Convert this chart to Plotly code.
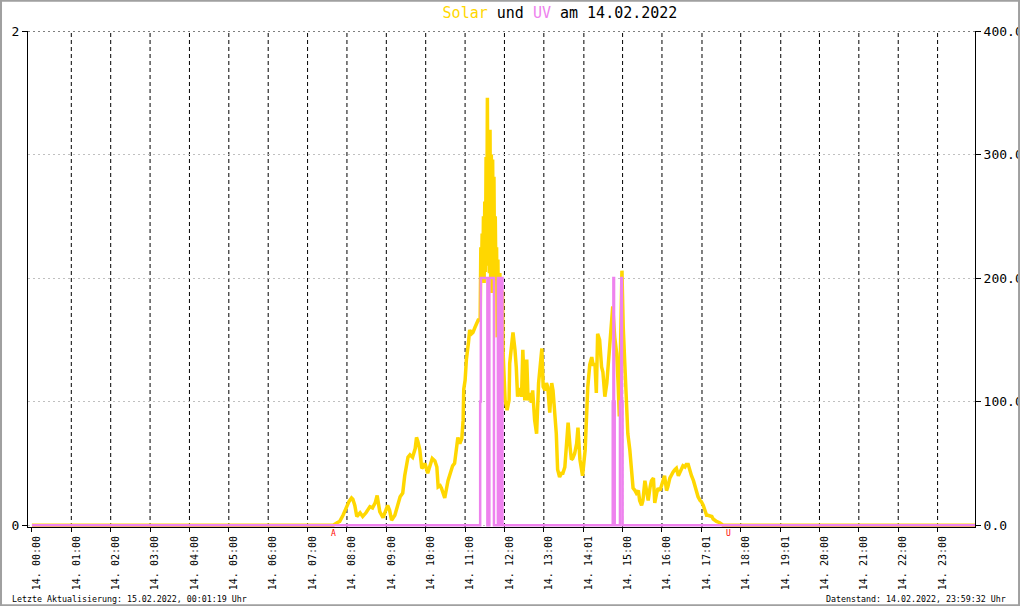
import plotly.graph_objects as go

# ---------------- data ----------------
chart_date = "14.02.2022"
tick_day = "14."
tick_times = ["00:00", "01:00", "02:00", "03:00", "04:00", "05:00", "06:00", "07:00",
              "08:00", "09:00", "10:00", "11:00", "12:00", "13:00", "14:01", "15:00",
              "16:00", "17:01", "18:00", "19:01", "20:00", "21:00", "22:00", "23:00"]

solar_time = ["00:00", "07:39", "07:45", "07:49", "07:54", "07:59", "08:03", "08:07", "08:09", "08:12",
              "08:15", "08:20", "08:24", "08:29", "08:35", "08:39", "08:43", "08:46", "08:49", "08:50",
              "08:55", "08:59", "09:02", "09:05", "09:08", "09:13", "09:16", "09:21", "09:25", "09:28",
              "09:33", "09:36", "09:40", "09:44", "09:46", "09:48", "09:51", "09:54", "09:56", "09:59",
              "10:03", "10:06", "10:10", "10:14", "10:17", "10:19", "10:22", "10:24", "10:26", "10:29",
              "10:34", "10:37", "10:41", "10:44", "10:47", "10:49", "10:52", "10:55", "10:57", "10:58",
              "11:00", "11:02", "11:05", "11:07", "11:10", "11:12", "11:15", "11:18", "11:20", "11:23",
              "11:24", "11:25", "11:26", "11:27", "11:28", "11:29", "11:30", "11:31", "11:32", "11:33",
              "11:34", "11:35", "11:36", "11:37", "11:38", "11:39", "11:40", "11:41", "11:42", "11:43",
              "11:44", "11:45", "11:46", "11:47", "11:48", "11:49", "11:50", "11:51", "11:52", "11:53",
              "11:54", "11:55", "11:56", "11:57", "11:58",
              "12:01", "12:04", "12:07", "12:08", "12:11", "12:13", "12:16", "12:18", "12:20", "12:23",
              "12:26", "12:28", "12:31", "12:34", "12:36", "12:39", "12:41", "12:43", "12:46", "12:49",
              "12:52", "12:55", "12:57", "12:59", "13:02", "13:04", "13:06", "13:09", "13:12", "13:14",
              "13:17", "13:19", "13:21", "13:24", "13:27", "13:29", "13:32", "13:35", "13:37", "13:40",
              "13:42", "13:44", "13:47", "13:50", "13:52", "13:55", "13:57", "13:59", "14:03", "14:05",
              "14:07", "14:10", "14:13", "14:15", "14:18", "14:20", "14:22", "14:25", "14:28", "14:30",
              "14:33", "14:36", "14:38", "14:41", "14:43", "14:45", "14:48", "14:51", "14:53", "14:55",
              "14:57", "14:59", "15:01", "15:03", "15:06", "15:08", "15:11", "15:14", "15:16", "15:19",
              "15:21", "15:24", "15:26", "15:29", "15:31", "15:34", "15:37", "15:39", "15:42", "15:44",
              "15:47", "15:49", "15:52", "15:54", "15:57", "15:59", "16:02", "16:04", "16:07", "16:09",
              "16:12", "16:15", "16:17", "16:20", "16:22", "16:25", "16:27", "16:30", "16:32", "16:35",
              "16:37", "16:40", "16:42", "16:45", "16:48", "16:50", "16:53", "16:55", "16:58", "17:00",
              "17:03", "17:05", "17:08", "17:10", "17:16", "17:18", "17:23", "17:28", "17:33", "23:59"]
solar_wm2 = [0, 0, 2, 3, 8, 15, 19, 22, 21, 16,
             7, 10, 7, 10, 15, 14, 18, 24, 16, 11,
             6, 12, 16, 12, 4, 8, 14, 23, 26, 40,
             55, 57, 55, 62, 71, 68, 61, 46, 47, 50,
             42, 48, 54, 52, 47, 31, 32, 30, 26, 22,
             36, 42, 48, 50, 63, 71, 66, 70, 85, 110,
             117, 134, 147, 158, 155, 156, 160, 163, 166, 166,
             225, 200, 236, 198, 250, 196, 262, 205, 298, 215,
             346, 210, 261, 204, 320, 200, 300, 188, 296, 220,
             282, 198, 250, 200, 225, 152, 215, 160, 193, 204,
             150, 185, 155, 190, 139,
             101, 93, 101, 131, 150, 156, 142, 128, 104, 111,
             104, 142, 101, 134, 101, 107, 99, 109, 85, 74,
             115, 136, 143, 112, 109, 115, 112, 91, 115, 109,
             91, 74, 45, 39, 42, 42, 47, 69, 83, 63,
             53, 54, 58, 66, 79, 53, 47, 40, 61, 90,
             112, 130, 136, 130, 130, 107, 155, 150, 128, 124,
             104, 115, 130, 146, 160, 177, 152, 139, 117, 88,
             147, 206, 160, 134, 91, 74, 61, 39, 30, 28,
             26, 28, 20, 16, 20, 36, 26, 20, 31, 36,
             38, 18, 26, 30, 28, 31, 36, 40, 28, 31,
             38, 42, 43, 45, 46, 40, 42, 46, 48, 47,
             49, 49, 45, 40, 36, 32, 28, 23, 20, 19,
             16, 12, 8, 8, 7, 5, 3, 2, 0, 0]

uv_time = ["00:00", "11:23", "11:24", "11:34", "11:37", "11:44", "11:50", "11:53", "11:55", "11:57",
           "14:45", "14:46", "14:47", "14:48", "14:56", "14:58", "14:59", "15:00", "23:59"]
uv_index = [0, 0.5, 1, 0, 1, 0, 1, 0, 1, 0,
            0.5, 1, 0.5, 0, 0.5, 1, 0.5, 0, 0]

sunrise = "07:39"
sunset = "17:42"
left_ticks = [0, 2]
right_ticks = [0, 100, 200, 300, 400]
footer_left = "Letzte Aktualisierung: 15.02.2022, 00:01:19 Uhr"
footer_right = "Datenstand: 14.02.2022, 23:59:32 Uhr"

SOLAR_COLOR = "#FFD700"
UV_COLOR = "#EE82EE"
FONT = "DejaVu Sans Mono"


def to_hours(t):
    h, m = t.split(":")
    return int(h) + int(m) / 60.0


tick_hours = [to_hours(t) for t in tick_times]
tick_text = [f"{tick_day} {t}" for t in tick_times]

fig = go.Figure()
fig.add_trace(go.Scatter(
    x=[to_hours(t) for t in solar_time], y=solar_wm2, mode="lines",
    line=dict(color=SOLAR_COLOR, width=3.5), yaxis="y", name="Solar", hoverinfo="skip"))
fig.add_trace(go.Scatter(
    x=[to_hours(t) for t in uv_time], y=uv_index, mode="lines",
    line=dict(color=UV_COLOR, width=2.5, shape="hv"), yaxis="y2", name="UV", hoverinfo="skip"))

shapes = []
for h in tick_hours[1:]:
    shapes.append(dict(type="line", xref="x", yref="paper", x0=h, x1=h, y0=0, y1=1,
                       line=dict(color="black", width=1, dash="4px,3px"), layer="below"))
shapes.append(dict(type="line", xref="paper", yref="y", x0=0, x1=1, y0=right_ticks[-1], y1=right_ticks[-1],
                   line=dict(color="black", width=1, dash="2px,3px"), layer="below"))
# outer frame of the picture
shapes.append(dict(type="rect", xref="paper", yref="paper", x0=-0.0285, x1=1.0465, y0=-0.1576, y1=1.0612,
                   line=dict(color="#a0a0a0", width=2), fillcolor="rgba(0,0,0,0)", layer="above"))

annotations = [
    dict(text=footer_left, xref="paper", yref="paper", x=-0.019, y=-0.1455, xanchor="left",
         yanchor="middle", showarrow=False, font=dict(family=FONT, size=8.3, color="black")),
    dict(text=footer_right, xref="paper", yref="paper", x=1.0348, y=-0.1455, xanchor="right",
         yanchor="middle", showarrow=False, font=dict(family=FONT, size=8.3, color="black")),
    dict(text="A", xref="x", yref="paper", x=to_hours(sunrise), y=0, xanchor="center", yanchor="top",
         showarrow=False, font=dict(family=FONT, size=8, color="#FF0000")),
    dict(text="U", xref="x", yref="paper", x=to_hours(sunset), y=0, xanchor="center", yanchor="top",
         showarrow=False, font=dict(family=FONT, size=8, color="#FF0000")),
]

fig.update_layout(
    width=1020, height=606,
    margin=dict(l=28, r=45, t=31, b=79, autoexpand=False),
    paper_bgcolor="white", plot_bgcolor="white",
    showlegend=False,
    font=dict(family=FONT, color="black"),
    title=dict(
        text=(f"<span style='color:{SOLAR_COLOR}'>Solar</span> und "
              f"<span style='color:{UV_COLOR}'>UV</span> am {chart_date}"),
        xref="container", yref="container", x=560 / 1020, y=1 - 13 / 606,
        xanchor="center", yanchor="middle", font=dict(family=FONT, size=15, color="black")),
    xaxis=dict(range=[-0.1, 23.95], tickvals=tick_hours, ticktext=tick_text, tickangle=-90,
               tickfont=dict(family=FONT, size=10, color="black"), ticks="outside", ticklen=4,
               tickcolor="black", showline=True, linecolor="black", linewidth=1,
               ticklabelshift=5,
               showgrid=False, zeroline=False, fixedrange=True),
    yaxis=dict(range=[-1.5, 400], side="right", tickvals=right_ticks, tickformat=".1f",
               tickfont=dict(family=FONT, size=13, color="black"), ticks="outside", ticklen=5,
               tickcolor="black", showline=True, linecolor="black", linewidth=1,
               showgrid=True, gridcolor="#c0c0c0", griddash="2px,3px", gridwidth=1,
               zeroline=False),
    yaxis2=dict(range=[-1.5 / 200, 2], side="left", overlaying="y", tickvals=left_ticks,
                tickfont=dict(family=FONT, size=13, color="black"), ticks="outside", ticklen=5,
                tickcolor="black", showline=True, linecolor="black", linewidth=1,
                showgrid=False, zeroline=False),
    shapes=shapes,
    annotations=annotations,
)

fig.write_html("out.html", config={"displayModeBar": False},
               post_script="document.body.style.margin='0px';document.body.style.overflow='hidden';")
